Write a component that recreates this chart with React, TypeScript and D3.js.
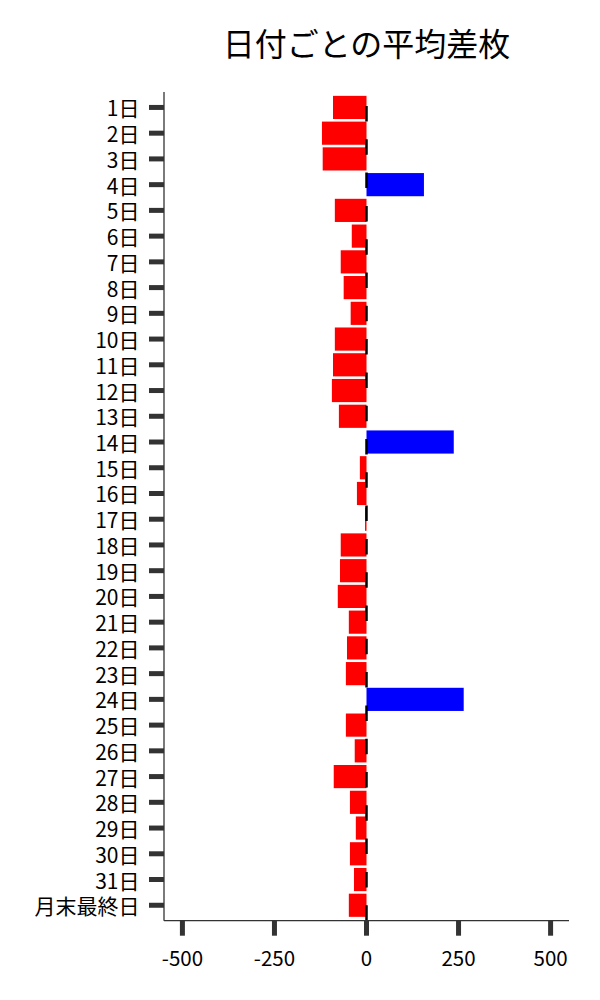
import React from 'react';
import * as d3 from 'd3';

const TITLE = '日付ごとの平均差枚';
const categories = [
  '1日', '2日', '3日', '4日', '5日', '6日', '7日', '8日', '9日', '10日',
  '11日', '12日', '13日', '14日', '15日', '16日', '17日', '18日', '19日', '20日',
  '21日', '22日', '23日', '24日', '25日', '26日', '27日', '28日', '29日', '30日',
  '31日', '月末最終日',
];
const values = [
  -91, -121, -119, 156, -86, -40, -70, -62, -43, -86,
  -91, -94, -75, 237, -18, -26, -4, -70, -72, -78,
  -48, -53, -56, 264, -56, -32, -89, -45, -29, -45,
  -34, -48,
];
const xTicks = [-500, -250, 0, 250, 500];
const xDomain = [-550, 550];

const FONT = '"Noto Sans CJK JP", "Noto Sans", sans-serif';

export default function App() {
  const left = 164;
  const right = 569;
  const top = 92;
  const bottom = 920.7;

  const x = d3.scaleLinear().domain(xDomain).range([left, right]);
  const y = d3
    .scaleBand<string>()
    .domain(categories)
    .range([top, bottom])
    .paddingInner(0.1)
    .paddingOuter(0.15);

  const axisColor = '#333333';
  const x0 = x(0);

  return (
    <svg
      width={600}
      height={1000}
      style={{ position: 'absolute', left: 0, top: 0, background: '#fff' }}
      fontFamily={FONT}
    >
      <rect x={0} y={0} width={600} height={1000} fill="#fff" />
      <text
        x={(left + right) / 2}
        y={42}
        textAnchor="middle"
        dominantBaseline="central"
        fontSize={32}
        fill="#000"
      >
        {TITLE}
      </text>

      {categories.map((c, i) => {
        const v = values[i];
        const x1 = x(Math.min(0, v));
        const x2 = x(Math.max(0, v));
        return (
          <rect
            key={c}
            x={x1}
            y={y(c)!}
            width={Math.max(0, x2 - x1)}
            height={y.bandwidth()}
            fill={v >= 0 ? '#0000ff' : '#ff0000'}
          />
        );
      })}

      <line
        x1={x0}
        x2={x0}
        y1={bottom}
        y2={top}
        stroke="#000"
        strokeWidth={2.5}
        strokeDasharray="15.5 17.8"
      />

      {/* spines */}
      <line x1={left} x2={left} y1={top} y2={bottom} stroke={axisColor} strokeWidth={1.3} />
      <line x1={left} x2={right} y1={bottom} y2={bottom} stroke={axisColor} strokeWidth={1.3} />

      {/* y ticks */}
      {categories.map((c) => {
        const cy = y(c)! + y.bandwidth() / 2;
        return (
          <g key={'yt' + c}>
            <line x1={left - 15} x2={left} y1={cy} y2={cy} stroke={axisColor} strokeWidth={5} />
            <text
              x={139.5}
              y={cy}
              textAnchor="end"
              dominantBaseline="central"
              fontSize={21}
              fill="#000"
            >
              {c}
            </text>
          </g>
        );
      })}

      {/* x ticks */}
      {xTicks.map((t) => (
        <g key={'xt' + t}>
          <line x1={x(t)} x2={x(t)} y1={bottom} y2={bottom + 15} stroke={axisColor} strokeWidth={5} />
          <text
            x={x(t)}
            y={957}
            textAnchor="middle"
            dominantBaseline="central"
            fontSize={20.5}
            fill="#000"
          >
            {t}
          </text>
        </g>
      ))}
    </svg>
  );
}
